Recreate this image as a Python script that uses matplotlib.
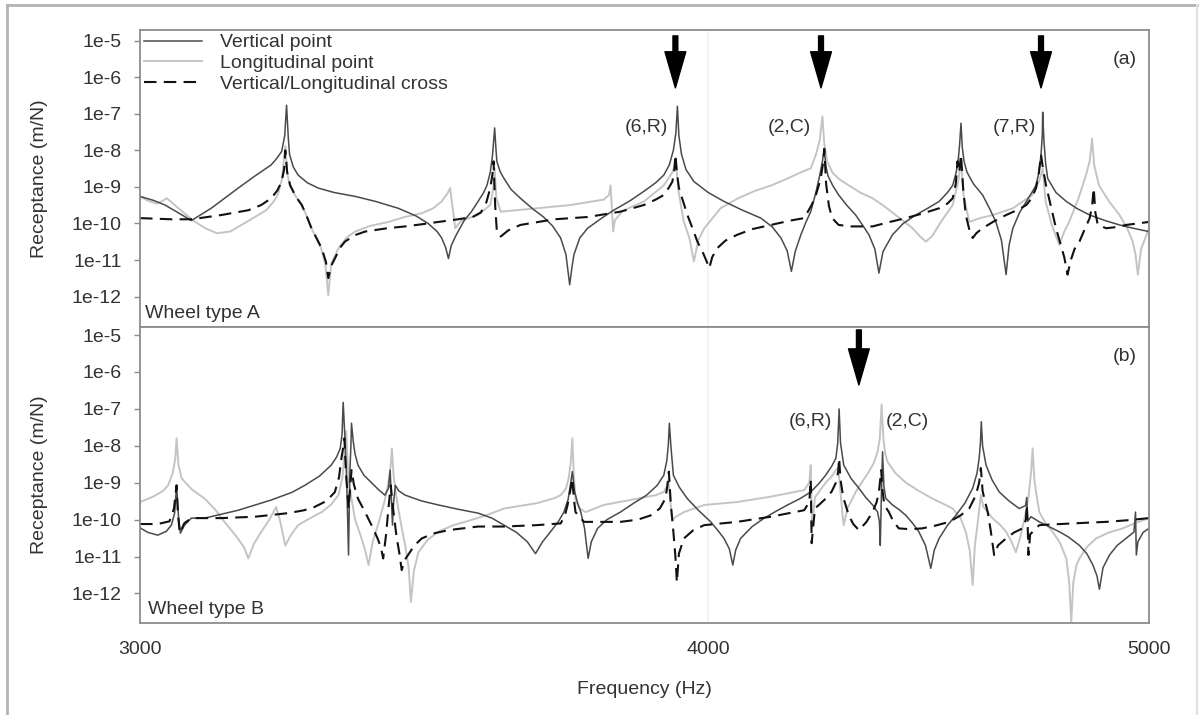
import numpy as np
import matplotlib
matplotlib.use("Agg")
import matplotlib.pyplot as plt
from matplotlib.lines import Line2D
from matplotlib.ticker import NullLocator

plt.rcParams['font.family'] = ['Liberation Sans', 'DejaVu Sans']

# (frequency Hz, receptance m/N)
# wheel type A
vert_a = [(3000, 5.5e-10), (3020, 4.3e-10), (3038, 3.2e-10), (3060, 1.9e-10), (3079, 1.2e-10),
          (3110, 2.6e-10), (3153, 9.3e-10), (3180, 2.0e-9), (3206, 4.0e-9), (3215, 6.0e-9),
          (3223, 9.3e-9), (3228, 2.5e-8), (3231, 1.7e-7), (3234, 2.0e-8), (3236, 7.6e-9),
          (3242, 3.5e-9), (3250, 2.1e-9), (3265, 1.3e-9), (3283, 9.3e-10), (3310, 7.0e-10),
          (3345, 5.5e-10), (3380, 4.0e-10), (3419, 2.6e-10), (3450, 1.6e-10), (3471, 1.0e-10),
          (3487, 6.0e-11), (3495, 4.0e-11), (3502, 2.2e-11), (3507, 1.1e-11), (3512, 2.5e-11),
          (3521, 4.9e-11), (3535, 1.2e-10), (3548, 2.1e-10), (3560, 4.0e-10), (3570, 7.0e-10),
          (3576, 1.1e-9), (3582, 2.5e-9), (3586, 7.0e-9), (3590, 4.1e-8), (3592, 1.3e-8),
          (3594, 5.0e-9), (3600, 2.6e-9), (3607, 1.7e-9), (3620, 8.5e-10), (3637, 4.9e-10),
          (3660, 2.5e-10), (3680, 1.5e-10), (3697, 8.5e-11), (3712, 4.0e-11), (3722, 1.4e-11),
          (3729, 2.1e-12), (3733, 6.0e-12), (3737, 1.4e-11), (3748, 4.0e-11), (3763, 7.4e-11),
          (3790, 1.4e-10), (3813, 2.3e-10), (3845, 4.2e-10), (3872, 7.6e-10), (3895, 1.3e-9),
          (3911, 2.1e-9), (3922, 4.0e-9), (3930, 1.0e-8), (3935, 3.0e-8), (3938, 1.6e-7),
          (3941, 2.5e-8), (3946, 8.0e-9), (3955, 3.0e-9), (3971, 1.4e-9), (4000, 7.0e-10),
          (4032, 4.0e-10), (4070, 2.3e-10), (4108, 1.4e-10), (4132, 8.0e-11), (4150, 4.0e-11),
          (4163, 1.8e-11), (4172, 4.9e-12), (4180, 1.7e-11), (4192, 4.9e-11), (4203, 1.1e-10),
          (4213, 2.1e-10), (4224, 7.0e-10), (4232, 2.0e-9), (4238, 5.0e-9), (4242, 1.1e-8),
          (4245, 4.0e-9), (4250, 2.0e-9), (4260, 1.1e-9), (4273, 6.0e-10), (4290, 3.2e-10),
          (4310, 1.7e-10), (4325, 9.0e-11), (4339, 4.9e-11), (4352, 2.0e-11), (4361, 4.4e-12),
          (4370, 1.7e-11), (4391, 4.9e-11), (4415, 1.0e-10), (4443, 1.7e-10), (4470, 2.6e-10),
          (4496, 4.0e-10), (4515, 7.0e-10), (4527, 1.1e-9), (4535, 2.5e-9), (4540, 6.0e-9),
          (4543, 1.5e-8), (4546, 5.5e-8), (4549, 1.2e-8), (4553, 5.0e-9), (4560, 2.5e-9),
          (4575, 1.2e-9), (4596, 6.0e-10), (4612, 2.6e-10), (4627, 1.1e-10), (4640, 3.5e-11),
          (4651, 4.0e-12), (4658, 2.5e-11), (4667, 7.4e-11), (4683, 2.0e-10), (4699, 4.0e-10),
          (4712, 7.0e-10), (4722, 1.1e-9), (4729, 2.5e-9), (4734, 7.6e-9), (4737, 2.5e-8),
          (4738, 1.1e-7), (4741, 1.8e-8), (4745, 4.5e-9), (4750, 1.7e-9), (4770, 7.0e-10),
          (4795, 4.0e-10), (4820, 2.6e-10), (4852, 1.7e-10), (4890, 1.2e-10), (4926, 9.1e-11),
          (4960, 7.4e-11), (5000, 6.0e-11)]

long_a = [(3000, 5.4e-10), (3012, 4.2e-10), (3025, 3.5e-10), (3033, 4.0e-10), (3041, 4.9e-10),
          (3060, 2.5e-10), (3082, 1.2e-10), (3100, 7.5e-11), (3119, 5.4e-11), (3140, 6.0e-11),
          (3170, 1.2e-10), (3198, 2.3e-10), (3210, 4.0e-10), (3217, 6.3e-10), (3223, 1.5e-9),
          (3229, 1.3e-8), (3232, 2.5e-9), (3236, 1.1e-9), (3246, 5.5e-10), (3256, 3.2e-10),
          (3264, 1.6e-10), (3272, 7.4e-11), (3280, 4.0e-11), (3288, 2.1e-11), (3295, 8.0e-12),
          (3300, 1.1e-12), (3305, 8.0e-12), (3317, 2.1e-11), (3330, 4.0e-11), (3345, 6.0e-11),
          (3370, 8.5e-11), (3402, 1.1e-10), (3430, 1.5e-10), (3460, 1.9e-10), (3480, 2.6e-10),
          (3495, 4.0e-10), (3505, 6.5e-10), (3510, 9.3e-10), (3514, 3.0e-10), (3519, 7.4e-11),
          (3530, 1.2e-10), (3560, 1.7e-10), (3582, 3.2e-10), (3588, 1.0e-9), (3590, 3.2e-9),
          (3593, 5.0e-10), (3601, 2.1e-10), (3668, 2.6e-10), (3731, 3.2e-10), (3794, 4.5e-10),
          (3804, 6.0e-10), (3807, 1.1e-9), (3812, 6.0e-11), (3815, 1.2e-10), (3830, 2.2e-10),
          (3872, 4.0e-10), (3911, 1.1e-9), (3928, 2.5e-9), (3935, 5.0e-9), (3940, 8.0e-10),
          (3946, 2.6e-10), (3951, 1.1e-10), (3962, 4.0e-11), (3971, 9.1e-12), (3980, 3.5e-11),
          (3992, 7.4e-11), (4025, 2.6e-10), (4060, 4.8e-10), (4094, 7.6e-10), (4130, 1.1e-9),
          (4164, 1.7e-9), (4195, 2.6e-9), (4213, 3.2e-9), (4224, 7.6e-9), (4232, 1.8e-8),
          (4238, 8.5e-8), (4242, 1.5e-8), (4248, 5.0e-9), (4260, 2.4e-9), (4275, 1.6e-9),
          (4295, 1.1e-9), (4320, 7.0e-10), (4347, 4.9e-10), (4372, 3.0e-10), (4398, 1.7e-10),
          (4418, 1.1e-10), (4436, 7.4e-11), (4452, 4.5e-11), (4466, 3.2e-11), (4480, 4.5e-11),
          (4500, 1.1e-10), (4527, 3.2e-10), (4540, 1.5e-9), (4546, 5.0e-9), (4552, 6.0e-10),
          (4565, 1.1e-10), (4590, 1.4e-10), (4620, 1.7e-10), (4667, 2.6e-10), (4713, 6.0e-10),
          (4730, 1.5e-9), (4738, 3.2e-9), (4745, 4.0e-10), (4760, 9.0e-11), (4778, 2.6e-11),
          (4790, 6.0e-11), (4802, 1.1e-10), (4825, 5.0e-10), (4843, 2.1e-9), (4852, 5.0e-9),
          (4858, 2.1e-8), (4863, 4.0e-9), (4875, 1.1e-9), (4900, 4.0e-10), (4926, 1.7e-10),
          (4945, 7.4e-11), (4959, 3.2e-11), (4966, 1.4e-11), (4972, 4.0e-12), (4980, 2.0e-11),
          (5000, 7.4e-11)]

cross_a = [(3000, 1.4e-10), (3048, 1.3e-10), (3079, 1.3e-10), (3126, 1.7e-10), (3169, 2.3e-10),
           (3190, 3.2e-10), (3206, 4.9e-10), (3216, 8.0e-10), (3223, 1.4e-9), (3227, 3.0e-9),
           (3229, 1.0e-8), (3232, 2.5e-9), (3237, 1.1e-9), (3246, 5.5e-10), (3256, 3.2e-10),
           (3264, 1.6e-10), (3272, 7.4e-11), (3281, 3.8e-11), (3289, 2.1e-11), (3296, 9.0e-12),
           (3300, 3.2e-12), (3305, 7.0e-12), (3311, 1.1e-11), (3320, 2.2e-11), (3328, 3.2e-11),
           (3345, 4.8e-11), (3362, 6.0e-11), (3400, 7.4e-11), (3431, 8.3e-11), (3460, 9.5e-11),
           (3489, 1.1e-10), (3524, 1.3e-10), (3550, 1.5e-10), (3565, 2.0e-10), (3575, 3.8e-10),
           (3582, 9.3e-10), (3586, 2.2e-9), (3588, 5.0e-9), (3591, 3.0e-10), (3594, 6.0e-11),
           (3601, 4.4e-11), (3615, 6.5e-11), (3637, 9.1e-11), (3670, 1.1e-10), (3700, 1.3e-10),
           (3763, 1.5e-10), (3826, 2.1e-10), (3872, 3.2e-10), (3895, 4.5e-10), (3911, 6.0e-10),
           (3922, 1.0e-9), (3928, 1.4e-9), (3932, 3.0e-9), (3934, 7.6e-9), (3937, 2.5e-9),
           (3941, 9.3e-10), (3950, 3.8e-10), (3958, 1.7e-10), (3968, 7.5e-11), (3978, 3.2e-11),
           (3990, 1.5e-11), (3997, 9.0e-12), (4002, 6.0e-12), (4008, 1.2e-11), (4018, 2.1e-11),
           (4035, 3.4e-11), (4059, 4.9e-11), (4090, 7.0e-11), (4129, 9.1e-11), (4170, 1.2e-10),
           (4199, 1.4e-10), (4215, 3.2e-10), (4224, 6.0e-10), (4234, 1.6e-9), (4240, 5.0e-9),
           (4242, 1.1e-8), (4246, 1.2e-9), (4252, 3.0e-10), (4259, 1.4e-10), (4273, 9.1e-11),
           (4300, 8.3e-11), (4347, 8.3e-11), (4385, 1.1e-10), (4421, 1.4e-10), (4460, 1.9e-10),
           (4496, 2.6e-10), (4515, 3.5e-10), (4527, 4.9e-10), (4534, 1.2e-9), (4538, 5.0e-9),
           (4542, 2.5e-9), (4546, 7.6e-9), (4551, 9.0e-10), (4557, 1.7e-10), (4565, 7.0e-11),
           (4573, 4.0e-11), (4582, 5.5e-11), (4596, 7.4e-11), (4620, 1.1e-10), (4651, 1.7e-10),
           (4680, 2.4e-10), (4699, 3.2e-10), (4712, 5.0e-10), (4722, 9.3e-10), (4729, 2.5e-9),
           (4734, 7.6e-9), (4739, 3.0e-9), (4746, 1.1e-9), (4755, 4.0e-10), (4763, 1.6e-10),
           (4770, 7.4e-11), (4780, 3.0e-11), (4790, 1.2e-11), (4798, 4.0e-12), (4806, 1.0e-11),
           (4815, 2.0e-11), (4827, 3.2e-11), (4840, 7.0e-11), (4852, 1.4e-10), (4858, 3.0e-10),
           (4862, 9.3e-10), (4866, 2.0e-10), (4872, 9.1e-11), (4893, 7.4e-11), (4920, 8.0e-11),
           (4942, 9.1e-11), (4970, 1.0e-10), (5000, 1.1e-10)]

# wheel type B
vert_b = [(3000, 6.0e-11), (3012, 4.5e-11), (3027, 3.8e-11), (3040, 4.8e-11), (3048, 7.1e-11),
          (3053, 1.5e-10), (3056, 8.5e-10), (3059, 1.2e-10), (3062, 4.3e-11), (3068, 7.0e-11),
          (3079, 1.1e-10), (3100, 1.1e-10), (3153, 1.8e-10), (3206, 3.4e-10), (3240, 5.5e-10),
          (3261, 8.5e-10), (3285, 1.5e-9), (3305, 3.0e-9), (3314, 5.0e-9), (3320, 8.5e-9),
          (3323, 2.0e-8), (3325, 1.5e-7), (3328, 1.5e-8), (3331, 1.0e-9), (3334, 1.1e-11),
          (3336, 1.5e-9), (3338, 1.0e-8), (3339, 4.1e-8), (3342, 1.3e-8), (3345, 6.0e-9),
          (3350, 3.0e-9), (3360, 1.6e-9), (3373, 1.0e-9), (3385, 6.5e-10), (3396, 4.6e-10),
          (3402, 7.0e-10), (3405, 2.2e-9), (3407, 4.0e-10), (3409, 7.1e-11), (3411, 3.0e-10),
          (3414, 8.5e-10), (3420, 6.0e-10), (3431, 4.6e-10), (3460, 3.2e-10), (3489, 2.5e-10),
          (3525, 1.9e-10), (3560, 1.5e-10), (3585, 1.1e-10), (3607, 7.1e-11), (3630, 4.5e-11),
          (3650, 2.5e-11), (3665, 1.2e-11), (3678, 2.5e-11), (3693, 4.7e-11), (3708, 9.0e-11),
          (3718, 1.6e-10), (3726, 3.5e-10), (3731, 1.0e-9), (3734, 2.0e-9), (3738, 6.0e-10),
          (3744, 2.8e-10), (3750, 1.6e-10), (3757, 6.0e-11), (3764, 8.9e-12), (3770, 2.5e-11),
          (3782, 5.8e-11), (3800, 1.0e-10), (3826, 1.6e-10), (3852, 2.8e-10), (3877, 4.6e-10),
          (3898, 8.5e-10), (3911, 1.6e-9), (3917, 4.0e-9), (3920, 1.1e-8), (3922, 4.1e-8),
          (3925, 1.0e-8), (3930, 1.6e-9), (3942, 7.5e-10), (3958, 3.7e-10), (3980, 1.8e-10),
          (4005, 8.7e-11), (4020, 5.0e-11), (4032, 3.1e-11), (4043, 1.6e-11), (4050, 5.9e-12),
          (4056, 1.5e-11), (4066, 3.1e-11), (4090, 6.5e-11), (4115, 1.1e-10), (4140, 1.7e-10),
          (4164, 2.5e-10), (4190, 3.7e-10), (4213, 5.6e-10), (4232, 1.0e-9), (4245, 1.6e-9),
          (4258, 2.8e-9), (4267, 4.6e-9), (4271, 1.2e-8), (4274, 1.0e-7), (4277, 1.2e-8),
          (4284, 3.0e-9), (4300, 1.3e-9), (4317, 7.1e-10), (4332, 4.0e-10), (4347, 2.5e-10),
          (4358, 1.6e-10), (4362, 9.0e-11), (4364, 2.0e-11), (4367, 9.0e-10), (4369, 6.9e-9),
          (4372, 8.0e-10), (4376, 3.8e-10), (4391, 2.5e-10), (4405, 1.9e-10), (4421, 1.3e-10),
          (4436, 8.0e-11), (4450, 4.7e-11), (4465, 2.0e-11), (4477, 4.8e-12), (4485, 1.5e-11),
          (4496, 3.1e-11), (4515, 7.0e-11), (4534, 1.3e-10), (4555, 2.8e-10), (4573, 7.1e-10),
          (4583, 1.8e-9), (4588, 4.6e-9), (4591, 1.2e-8), (4593, 4.5e-8), (4596, 1.0e-8),
          (4604, 3.0e-9), (4618, 1.2e-9), (4635, 5.6e-10), (4658, 3.2e-10), (4682, 2.0e-10),
          (4697, 2.4e-10), (4700, 4.0e-10), (4702, 9.0e-11), (4710, 1.2e-10), (4730, 8.7e-11),
          (4755, 6.3e-11), (4778, 4.7e-11), (4800, 3.4e-11), (4827, 2.0e-11), (4845, 1.2e-11),
          (4860, 5.9e-12), (4870, 3.0e-12), (4876, 1.3e-12), (4885, 5.0e-12), (4901, 1.1e-11),
          (4920, 2.0e-11), (4942, 3.1e-11), (4962, 4.6e-11), (4966, 1.6e-10), (4968, 1.1e-11),
          (4972, 2.5e-11), (4985, 4.5e-11), (5000, 5.8e-11)]

long_b = [(3000, 3.0e-10), (3020, 4.2e-10), (3035, 6.0e-10), (3043, 8.5e-10), (3050, 1.8e-9),
          (3054, 4.5e-9), (3056, 1.6e-8), (3059, 3.0e-9), (3064, 1.3e-9), (3080, 6.5e-10),
          (3100, 3.7e-10), (3116, 1.9e-10), (3131, 8.7e-11), (3150, 3.5e-11), (3162, 1.8e-11),
          (3169, 8.9e-12), (3178, 2.2e-11), (3190, 4.7e-11), (3203, 1.0e-10), (3214, 2.2e-10),
          (3220, 1.0e-10), (3225, 4.0e-11), (3229, 2.0e-11), (3238, 3.8e-11), (3250, 7.1e-11),
          (3270, 1.1e-10), (3289, 1.6e-10), (3305, 2.6e-10), (3317, 4.6e-10), (3324, 1.5e-9),
          (3330, 2.5e-8), (3334, 1.2e-9), (3340, 3.0e-10), (3345, 1.0e-10), (3355, 3.5e-11),
          (3362, 1.5e-11), (3368, 5.9e-12), (3375, 2.5e-11), (3384, 7.1e-11), (3395, 3.0e-10),
          (3402, 1.0e-9), (3406, 3.0e-9), (3408, 8.5e-9), (3411, 1.5e-9), (3415, 5.0e-10),
          (3419, 2.0e-10), (3425, 6.0e-11), (3431, 2.0e-11), (3437, 5.0e-12), (3441, 5.9e-13),
          (3446, 4.0e-12), (3454, 1.3e-11), (3470, 2.8e-11), (3489, 4.7e-11), (3515, 7.0e-11),
          (3548, 9.8e-11), (3580, 1.4e-10), (3607, 2.0e-10), (3668, 2.8e-10), (3700, 3.8e-10),
          (3712, 4.6e-10), (3722, 7.0e-10), (3727, 1.3e-9), (3731, 3.5e-9), (3734, 1.6e-8),
          (3737, 1.5e-9), (3740, 3.4e-10), (3748, 2.0e-10), (3759, 1.6e-10), (3794, 2.5e-10),
          (3858, 3.7e-10), (3895, 4.6e-10), (3911, 5.6e-10), (3917, 8.0e-10), (3920, 1.2e-9),
          (3924, 3.0e-10), (3928, 1.0e-10), (3935, 1.2e-10), (3951, 1.6e-10), (3992, 2.5e-10),
          (4059, 3.0e-10), (4129, 4.2e-10), (4199, 6.3e-10), (4210, 1.0e-9), (4213, 3.0e-9),
          (4215, 2.0e-10), (4216, 5.9e-11), (4222, 4.0e-10), (4245, 1.0e-9), (4260, 1.6e-9),
          (4267, 2.2e-9), (4272, 2.5e-9), (4276, 8.0e-10), (4281, 1.5e-10), (4284, 7.1e-11),
          (4292, 2.0e-10), (4310, 5.6e-10), (4325, 1.1e-9), (4339, 2.0e-9), (4350, 3.5e-9),
          (4358, 6.9e-9), (4363, 1.6e-8), (4367, 1.3e-7), (4371, 1.5e-8), (4375, 6.0e-9),
          (4380, 3.7e-9), (4398, 1.8e-9), (4421, 1.0e-9), (4450, 6.0e-10), (4481, 3.7e-10),
          (4505, 2.7e-10), (4527, 2.0e-10), (4545, 1.1e-10), (4557, 4.7e-11), (4566, 1.5e-11),
          (4573, 1.7e-12), (4578, 2.0e-11), (4584, 7.1e-11), (4590, 3.0e-10), (4592, 4.6e-10),
          (4598, 2.2e-10), (4619, 1.1e-10), (4638, 7.0e-11), (4651, 4.7e-11), (4664, 2.5e-11),
          (4674, 1.3e-11), (4685, 3.5e-11), (4694, 1.0e-10), (4704, 4.0e-10), (4710, 1.8e-9),
          (4714, 8.5e-9), (4718, 1.2e-9), (4724, 4.0e-10), (4730, 1.6e-10), (4745, 8.0e-11),
          (4762, 4.7e-11), (4780, 2.3e-11), (4795, 8.9e-12), (4802, 2.0e-12), (4807, 1.7e-13),
          (4812, 2.0e-12), (4820, 6.0e-12), (4827, 8.9e-12), (4845, 1.8e-11), (4868, 3.1e-11),
          (4900, 4.5e-11), (4934, 5.8e-11), (4965, 8.0e-11), (5000, 1.1e-10)]

cross_b = [(3000, 7.6e-11), (3027, 7.6e-11), (3045, 9.0e-11), (3052, 2.0e-10), (3056, 8.5e-10),
           (3058, 1.5e-10), (3061, 4.3e-11), (3068, 8.0e-11), (3079, 1.1e-10), (3126, 1.1e-10),
           (3180, 1.2e-10), (3234, 1.5e-10), (3260, 1.8e-10), (3277, 2.2e-10), (3297, 3.2e-10),
           (3311, 5.6e-10), (3318, 1.4e-9), (3322, 4.6e-9), (3325, 9.0e-9), (3327, 1.6e-8),
           (3330, 1.5e-9), (3334, 2.0e-10), (3337, 8.0e-10), (3339, 2.2e-9), (3343, 9.0e-10),
           (3350, 3.7e-10), (3362, 1.6e-10), (3373, 7.1e-11), (3383, 3.2e-11), (3389, 1.8e-11),
           (3393, 8.9e-12), (3398, 4.0e-11), (3402, 2.0e-10), (3406, 8.5e-10), (3410, 2.0e-10),
           (3416, 3.5e-11), (3421, 1.2e-11), (3425, 4.3e-12), (3430, 8.0e-12), (3436, 1.1e-11),
           (3447, 2.0e-11), (3460, 3.1e-11), (3480, 4.2e-11), (3507, 5.2e-11), (3560, 6.5e-11),
           (3607, 6.5e-11), (3668, 7.1e-11), (3712, 7.9e-11), (3720, 1.3e-10), (3725, 2.5e-10),
           (3730, 6.0e-10), (3734, 1.3e-9), (3737, 3.5e-10), (3740, 1.6e-10), (3756, 8.7e-11),
           (3826, 8.7e-11), (3860, 1.0e-10), (3885, 1.3e-10), (3903, 2.0e-10), (3914, 3.7e-10),
           (3918, 8.0e-10), (3921, 2.0e-9), (3925, 2.5e-10), (3930, 4.7e-11), (3934, 1.0e-11),
           (3937, 2.0e-12), (3941, 1.2e-11), (3951, 3.1e-11), (3970, 5.2e-11), (3992, 7.1e-11),
           (4059, 8.7e-11), (4129, 1.2e-10), (4199, 1.8e-10), (4210, 3.0e-10), (4213, 1.2e-9),
           (4215, 2.3e-11), (4222, 2.0e-10), (4245, 3.7e-10), (4258, 5.8e-10), (4267, 1.0e-9),
           (4272, 2.0e-9), (4274, 4.6e-9), (4277, 1.2e-9), (4283, 4.0e-10), (4295, 1.3e-10),
           (4305, 7.5e-11), (4317, 5.2e-11), (4333, 8.5e-11), (4347, 1.6e-10), (4356, 3.0e-10),
           (4361, 5.6e-10), (4366, 2.2e-9), (4369, 6.0e-10), (4373, 2.5e-10), (4383, 1.6e-10),
           (4393, 9.0e-11), (4405, 5.8e-11), (4430, 5.5e-11), (4458, 5.8e-11), (4490, 7.0e-11),
           (4519, 8.7e-11), (4545, 1.3e-10), (4565, 2.0e-10), (4580, 4.5e-10), (4588, 1.0e-9),
           (4592, 2.5e-9), (4596, 6.0e-10), (4602, 3.0e-10), (4608, 1.6e-10), (4615, 5.0e-11),
           (4623, 1.1e-11), (4632, 2.0e-11), (4651, 3.1e-11), (4670, 4.5e-11), (4690, 5.8e-11),
           (4698, 1.0e-10), (4700, 2.5e-10), (4702, 8.0e-11), (4704, 1.1e-11), (4708, 4.0e-11),
           (4730, 7.1e-11), (4770, 7.5e-11), (4811, 7.9e-11), (4850, 8.3e-11), (4893, 8.7e-11),
           (4950, 9.7e-11), (5000, 1.1e-10)]

series_labels = ["Vertical point", "Longitudinal point", "Vertical/Longitudinal cross"]
y_ticks = [1e-12, 1e-11, 1e-10, 1e-9, 1e-8, 1e-7, 1e-6, 1e-5]
y_tick_labels = ["1e-12", "1e-11", "1e-10", "1e-9", "1e-8", "1e-7", "1e-6", "1e-5"]
x_ticks = [3000, 4000, 5000]

# mode markers: arrow frequencies and (label, frequency, alignment)
arrows_a = [3934, 4235, 4734]
labels_a = [("(6,R)", 3920, "right"), ("(2,C)", 4213, "right"), ("(7,R)", 4722, "right")]
arrows_b = [4317]
labels_b = [("(6,R)", 4259, "right"), ("(2,C)", 4376, "left")]

FS = 14
TXT = '#333333'
fig = plt.figure(figsize=(12.01, 7.15), dpi=100)
ax_a = fig.add_axes([0.1166, 0.5427, 0.8401, 0.4154])
ax_b = fig.add_axes([0.1166, 0.1287, 0.8401, 0.4140])


def draw_panel(ax, vert, longi, cross, ylim):
    ax.axvline(4000, color='#f2f2f2', lw=1.2, zorder=0)
    f, v = np.array(longi).T
    l_long, = ax.plot(f, v, color='#c4c4c4', lw=1.4)
    f, v = np.array(vert).T
    l_vert, = ax.plot(f, v, color='#4a4a4a', lw=1.1)
    f, v = np.array(cross).T
    l_cross, = ax.plot(f, v, color='#111111', lw=1.5, ls=(0, (6, 3.5)))
    ax.set_xscale('log')
    ax.set_yscale('log')
    ax.set_xlim(3000, 5000)
    ax.set_ylim(*ylim)
    ax.set_yticks(y_ticks)
    ax.set_yticklabels(y_tick_labels)
    ax.yaxis.set_minor_locator(NullLocator())
    ax.xaxis.set_minor_locator(NullLocator())
    ax.set_xticks(x_ticks)
    ax.set_xticklabels([str(x) for x in x_ticks])
    ax.tick_params(axis='y', direction='out', length=4, width=1, color='#8c8c8c',
                   pad=9, labelsize=FS, labelcolor=TXT)
    ax.tick_params(axis='x', length=0, pad=13, labelsize=FS, labelcolor=TXT)
    for sp in ax.spines.values():
        sp.set_color('#8c8c8c')
        sp.set_linewidth(1.3)
    return l_vert, l_long, l_cross


def mark_modes(ax, arrow_freqs, labels, tip, tail, label_y):
    for fa in arrow_freqs:
        ax.annotate('', xy=(fa, tip), xytext=(fa, tail),
                    xycoords=('data', 'axes fraction'), textcoords=('data', 'axes fraction'),
                    arrowprops=dict(facecolor='black', edgecolor='black', width=3.5,
                                    headwidth=15, headlength=26, shrink=0))
    for txt, fl, ha in labels:
        ax.text(fl, label_y, txt, transform=ax.get_xaxis_transform(), ha=ha, va='center',
                fontsize=FS, color=TXT)


handles = draw_panel(ax_a, vert_a, long_a, cross_a, (10 ** -12.83, 10 ** -4.71))
draw_panel(ax_b, vert_b, long_b, cross_b, (10 ** -12.8, 10 ** -4.78))
ax_a.tick_params(axis='x', labelbottom=False)

mark_modes(ax_a, arrows_a, labels_a, 0.805, 0.98, 0.672)
mark_modes(ax_b, arrows_b, labels_b, 0.804, 0.99, 0.679)

ax_a.legend(handles, series_labels, loc='upper left', frameon=False, fontsize=FS,
            handlelength=3.0, handletextpad=0.9, labelspacing=0.15,
            borderaxespad=0.1, borderpad=0.1, labelcolor=TXT)

ax_a.text(0.005, 0.047, "Wheel type A", transform=ax_a.transAxes, fontsize=FS,
          va='center', ha='left', color=TXT)
ax_b.text(0.008, 0.044, "Wheel type B", transform=ax_b.transAxes, fontsize=FS,
          va='center', ha='left', color=TXT)
ax_a.text(0.976, 0.899, "(a)", transform=ax_a.transAxes, fontsize=FS,
          va='center', ha='center', color=TXT)
ax_b.text(0.976, 0.899, "(b)", transform=ax_b.transAxes, fontsize=FS,
          va='center', ha='center', color=TXT)

fig.text(40 / 1201, 1 - 178.5 / 715, "Receptance (m/N)", rotation=90, ha='center',
         va='center', fontsize=FS, color=TXT)
fig.text(40 / 1201, 1 - 475 / 715, "Receptance (m/N)", rotation=90, ha='center',
         va='center', fontsize=FS, color=TXT)
fig.text(644 / 1201, 1 - 690 / 715, "Frequency (Hz)", ha='center', va='center',
         fontsize=FS, color=TXT)

# outer frame of the picture
fig.add_artist(Line2D([7 / 1201, 1197 / 1201], [1 - 5 / 715, 1 - 5 / 715],
                      transform=fig.transFigure, color='#b4b4b4', lw=2))
fig.add_artist(Line2D([7 / 1201, 7 / 1201], [0, 1 - 5 / 715],
                      transform=fig.transFigure, color='#b4b4b4', lw=2))
fig.add_artist(Line2D([1197 / 1201, 1197 / 1201], [0, 1 - 5 / 715],
                      transform=fig.transFigure, color='#e2e2e2', lw=1.5))

fig.savefig("out.png", dpi=100)
